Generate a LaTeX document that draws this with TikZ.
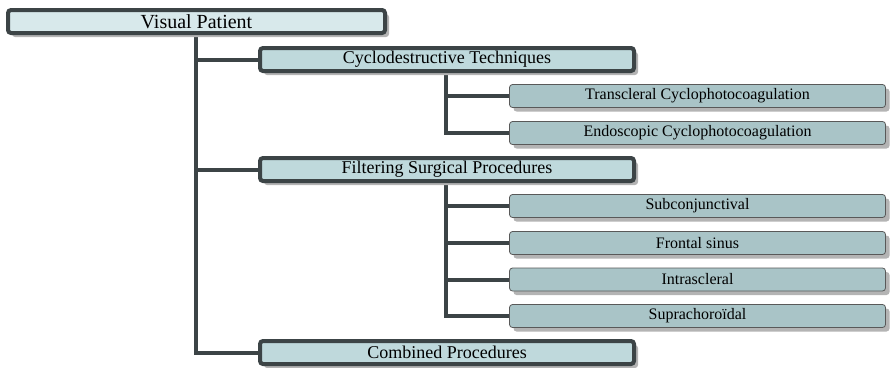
\documentclass[tikz,border=0pt]{standalone}
\usepackage{fontspec}
\setmainfont{Liberation Serif}
\usetikzlibrary{shadows,backgrounds}
\definecolor{edgec}{HTML}{3C4446}
\definecolor{rootfill}{HTML}{D8E9EB}
\definecolor{lonefill}{HTML}{BFD9DC}
\definecolor{ltwofill}{HTML}{A9C4C7}
\definecolor{shadowc}{HTML}{B4B4B4}
\tikzset{
  shad/.style={drop shadow={shadow xshift=4pt,shadow yshift=-4pt,fill=shadowc,opacity=1}},
  rootbox/.style={draw=edgec,line width=4pt,fill=rootfill,rounded corners=3pt,
    minimum width=377pt,minimum height=23pt,inner sep=0pt,shad,
    font=\fontsize{20}{22}\selectfont},
  lonebox/.style={draw=edgec,line width=4pt,fill=lonefill,rounded corners=3pt,
    minimum width=374pt,minimum height=23pt,inner sep=0pt,shad,
    font=\fontsize{18}{20}\selectfont},
  ltwobox/.style={draw=gray!70!black,line width=0.8pt,fill=ltwofill,rounded corners=3pt,
    minimum width=376pt,minimum height=23pt,inner sep=0pt,shad,
    font=\fontsize{16}{18}\selectfont},
  conn/.style={draw=edgec,line width=4pt},
}
\begin{document}
\begin{tikzpicture}[x=1pt,y=-1pt]
\useasboundingbox (0,0) rectangle (890,367);
\coordinate (t0) at (196,35);
\coordinate (t1) at (446,73);
\coordinate (t2) at (446,183);
\node[rootbox] (root) at (196.5,21.5) {Visual Patient};
\node[lonebox] (cyc) at (447,59.5) {Cyclodestructive Techniques};
\node[lonebox] (fil) at (447,169.5) {Filtering Surgical Procedures};
\node[lonebox] (com) at (447,352.5) {Combined Procedures};
\node[ltwobox] (tra) at (697.5,96) {Transcleral Cyclophotocoagulation};
\node[ltwobox] (end) at (697.5,133) {Endoscopic Cyclophotocoagulation};
\node[ltwobox] (sub) at (697.5,206) {Subconjunctival};
\node[ltwobox] (fro) at (697.5,243) {Frontal sinus};
\node[ltwobox] (int) at (697.5,279.5) {Intrascleral};
\node[ltwobox] (sup) at (697.5,316) {Suprachoro\"idal};
\begin{scope}[on background layer]
\draw[conn] (t0) |- (cyc.west);
\draw[conn] (t0) |- (fil.west);
\draw[conn] (t0) |- (com.west);
\draw[conn] (t1) |- (tra.west);
\draw[conn] (t1) |- (end.west);
\draw[conn] (t2) |- (sub.west);
\draw[conn] (t2) |- (fro.west);
\draw[conn] (t2) |- (int.west);
\draw[conn] (t2) |- (sup.west);
\end{scope}
\end{tikzpicture}
\end{document}
